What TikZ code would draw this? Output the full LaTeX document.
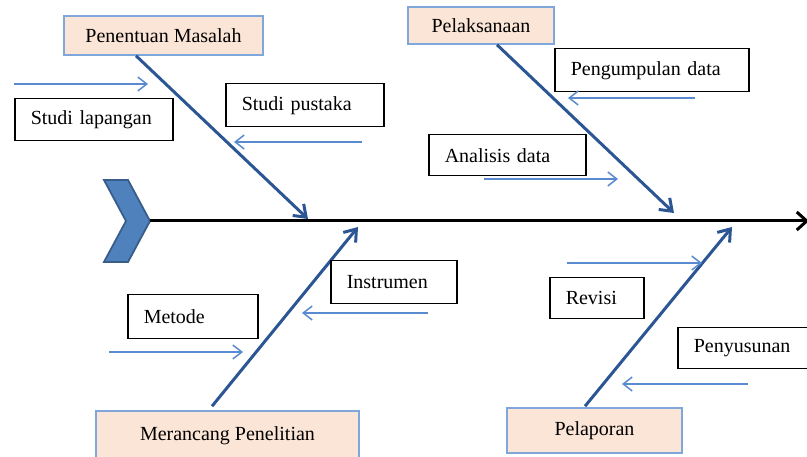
\documentclass[tikz,border=0pt]{standalone}
\usepackage{fontspec}
\setmainfont{Liberation Serif}
\usetikzlibrary{arrows.meta,calc}
\definecolor{catfill}{HTML}{FBE5D6}
\definecolor{catborder}{HTML}{7FA7DC}
\definecolor{bonecol}{HTML}{2B5693}
\definecolor{subcol}{HTML}{5A8BD0}
\definecolor{chevfill}{HTML}{4F81BD}
\definecolor{chevline}{HTML}{385D8A}
\begin{document}
\begin{tikzpicture}[x=1pt,y=-1pt,
  txt/.style={font=\fontsize{20}{24}\selectfont},
  cat/.style={txt, draw=catborder, line width=1.5pt, fill=catfill, inner sep=0pt},
  lab/.style={txt, draw=black, line width=1.5pt, fill=white, inner xsep=16pt, inner ysep=0pt, align=left, anchor=north west},
  bone/.style={draw=bonecol, line width=3pt, -{Straight Barb[length=11pt,width=16pt]}},
  sub/.style={draw=subcol, line width=1.5pt, -{Straight Barb[length=9pt,width=14pt]}},
  spine/.style={draw=black, line width=3pt, -{Straight Barb[length=10pt,width=18pt]}}]
\useasboundingbox (0,0) rectangle (807,457);
% chevron head
\filldraw[fill=chevfill, draw=chevline, line width=1.8pt]
  (104,180) -- (128,180) -- (150,221) -- (128,262) -- (104,262) -- (126,221) -- cycle;
\coordinate (sp0) at (150,221);
\coordinate (sp1) at (809,221);
\draw[spine] (sp0) -- (sp1);
% category boxes
\node[cat, minimum width=199pt, minimum height=39pt] (pm) at (163.5,35.5) {Penentuan Masalah};
\node[cat, minimum width=146pt, minimum height=37pt] (pl) at (481,25.5) {Pelaksanaan};
\node[cat, minimum width=263pt, minimum height=49pt] (mp) at (227.5,435.5) {Merancang Penelitian};
\node[cat, minimum width=175pt, minimum height=45pt] (lp) at (594.5,430.5) {Pelaporan};
% bone ends on the spine
\coordinate (e1) at (308,219);
\coordinate (e2) at (674,213);
\coordinate (e3) at (358,227);
\coordinate (e4) at (732,227);
\draw[bone] ([xshift=-27.5pt]pm.south) -- (e1);
\draw[bone] ([xshift=16pt]pl.south) -- (e2);
\draw[bone] ([xshift=-15.5pt,yshift=4pt]mp.north) -- (e3);
\draw[bone] ([xshift=-9.5pt,yshift=1pt]lp.north) -- (e4);
% label boxes
\node[lab, text width=126pt, minimum height=42pt] (sl) at (14,98) {Studi lapangan};
\node[lab, text width=126pt, minimum height=43pt] (sk) at (225,83) {Studi pustaka};
\node[lab, text width=162pt, minimum height=43pt] (pd) at (554,48) {Pengumpulan data};
\node[lab, text width=125pt, minimum height=41pt] (ad) at (428,134) {Analisis data};
\node[lab, text width=94pt, minimum height=43pt] (in) at (330,260) {Instrumen};
\node[lab, text width=98pt, minimum height=44pt] (me) at (127,294) {Metode};
\node[lab, text width=62pt, minimum height=41pt] (rv) at (549,277) {Revisi};
\node[lab, text width=99pt, minimum height=41pt] (ps) at (677,327) {Penyusunan};
% small arrows
\coordinate (a1s) at (14,84);   \coordinate (a1e) at (148,84);
\coordinate (a2s) at (362,142); \coordinate (a2e) at (234,142);
\coordinate (a3s) at (695,98);  \coordinate (a3e) at (568,98);
\coordinate (a4s) at (484,179); \coordinate (a4e) at (618,179);
\coordinate (a5s) at (428,313); \coordinate (a5e) at (302,313);
\coordinate (a6s) at (109,352); \coordinate (a6e) at (243,352);
\coordinate (a7s) at (567,263); \coordinate (a7e) at (702,263);
\coordinate (a8s) at (748,384); \coordinate (a8e) at (622,384);
\draw[sub] (a1s) -- (a1e);
\draw[sub] (a2s) -- (a2e);
\draw[sub] (a3s) -- (a3e);
\draw[sub] (a4s) -- (a4e);
\draw[sub] (a5s) -- (a5e);
\draw[sub] (a6s) -- (a6e);
\draw[sub] (a7s) -- (a7e);
\draw[sub] (a8s) -- (a8e);
\end{tikzpicture}
\end{document}
